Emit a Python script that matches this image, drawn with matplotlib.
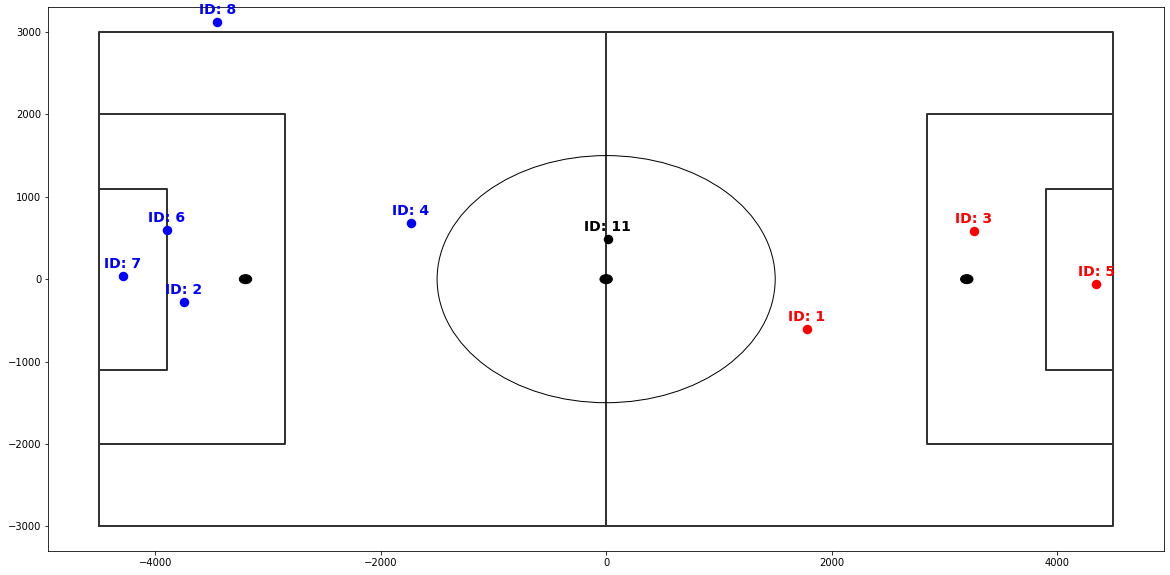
import numpy as np
import matplotlib
matplotlib.use('Agg')
import matplotlib.pyplot as plt
from matplotlib.patches import Circle, Ellipse

# Field dimensions (mm)
field_half_length = 4500
field_half_width = 3000
penalty_area_x = 2850
penalty_area_y = 2000
goal_area_x = 3900
goal_area_y = 1100
center_circle_r = 1500
penalty_mark_x = 3200
mark_r = 55

# Robot positions
blue_ids = [8, 6, 7, 2, 4]
blue_x = [-3450, -3900, -4290, -3750, -1735]
blue_y = [3120, 600, 35, -280, 680]

red_ids = [1, 3, 5]
red_x = [1780, 3260, 4350]
red_y = [-600, 580, -55]

ball_ids = [11]
ball_x = [15]
ball_y = [485]

fig = plt.figure(figsize=(1170 / 72, 575 / 72), dpi=72)
ax = fig.add_axes([48.3 / 1170, 24 / 575, 1115.7 / 1170, 543.7 / 575])

line_kw = dict(color='#333333', lw=2, zorder=1)
L, W = field_half_length, field_half_width

# Outer boundary and half-way line
ax.plot([-L, L, L, -L, -L], [-W, -W, W, W, -W], **line_kw)
ax.plot([0, 0], [-W, W], **line_kw)

# Penalty and goal areas on both sides
for s in (-1, 1):
    ax.plot([s * L, s * penalty_area_x, s * penalty_area_x, s * L],
            [penalty_area_y, penalty_area_y, -penalty_area_y, -penalty_area_y], **line_kw)
    ax.plot([s * L, s * goal_area_x, s * goal_area_x, s * L],
            [goal_area_y, goal_area_y, -goal_area_y, -goal_area_y], **line_kw)

# Center circle and marks
ax.add_patch(Ellipse((0, 0), 2 * center_circle_r, 2 * center_circle_r,
                     fill=False, color='black', lw=1, zorder=1))
for mx in (-penalty_mark_x, 0, penalty_mark_x):
    ax.add_patch(Circle((mx, 0), mark_r, color='black', zorder=2))


def draw_team(ids, xs, ys, color):
    ax.scatter(xs, ys, s=90, color=color, zorder=3, linewidths=0)
    for i, x, y in zip(ids, xs, ys):
        ax.annotate(f'ID: {i}', (x, y), xytext=(0, 8), textcoords='offset points',
                    ha='center', va='baseline', color=color,
                    fontsize=14, fontweight='bold', zorder=4)


draw_team(blue_ids, blue_x, blue_y, 'blue')
draw_team(red_ids, red_x, red_y, 'red')
draw_team(ball_ids, ball_x, ball_y, 'black')

ax.set_xlim(-4950, 4950)
ax.set_ylim(-3300, 3300)
ax.set_xticks([-4000, -2000, 0, 2000, 4000])
ax.set_yticks([-3000, -2000, -1000, 0, 1000, 2000, 3000])
ax.tick_params(labelsize=10)

fig.savefig('out.png', dpi=72)
